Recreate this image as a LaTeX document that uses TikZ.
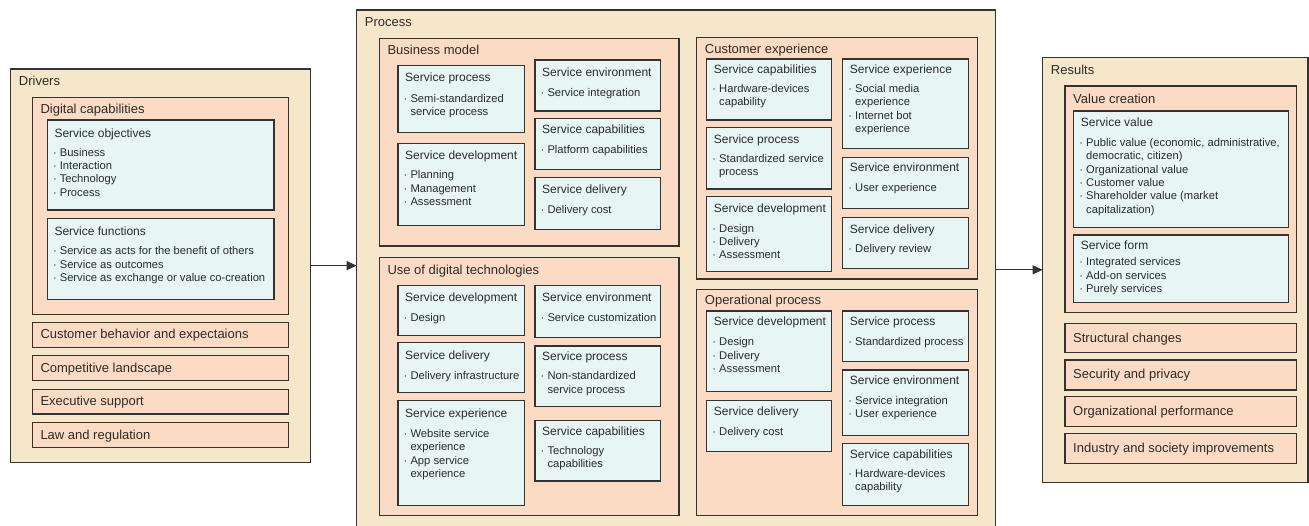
\documentclass[tikz,border=0pt]{standalone}
\usepackage{fontspec}
\setmainfont{Liberation Sans}
\usetikzlibrary{arrows.meta}
\definecolor{cbeige}{HTML}{F6E7CA}
\definecolor{csalmon}{HTML}{FCDBC4}
\definecolor{cblue}{HTML}{E8F5F5}
\definecolor{cline}{HTML}{333333}
\definecolor{ctext}{HTML}{2B2B2B}
\newcommand\bu{\makebox[6.8pt][l]{·}}
\newcommand\bi{\hspace*{6.8pt}}
% generic rectangle node: style, name, x1, y1, x2, y2
\newcommand\abox[6]{\node[#1, minimum width={#5-#3}, minimum height={#6-#4}] (#2) at (#3,#4) {};}
% container with heading: style, name, x1, y1, x2, y2, text, baseline offset
\newcommand\cbox[8]{\abox{#1}{#2}{#3}{#4}{#5}{#6}
  \node[head] (#2-t) at ([xshift=8pt,yshift=-#8pt]#2.north west) {#7};}
% service box: name, x1, y1, x2, y2, title, lines, title offset, bullet offset
\newcommand\svc[9]{\abox{bluebox}{#1}{#2}{#3}{#4}{#5}
  \node[ttl] (#1-t) at ([xshift=7pt,yshift=-#8pt]#1.north west) {#6};
  \node[bul] (#1-b) at ([xshift=5.5pt,yshift=-#9pt]#1.north west) {\begin{tabular}[t]{@{}l@{}}#7\end{tabular}};}
\tikzset{
  box/.style={draw=cline, line width=1.2pt, inner sep=0pt, outer sep=0pt, anchor=north west},
  outerbox/.style={box, fill=cbeige},
  midbox/.style={box, fill=csalmon},
  bluebox/.style={box, fill=cblue},
  head/.style={font=\fontsize{13}{15}\selectfont, text=ctext, inner sep=0pt, anchor=base west},
  ttl/.style={font=\fontsize{12}{14}\selectfont, text=ctext, inner sep=0pt, anchor=base west},
  bul/.style={font=\fontsize{11.2}{13.3}\selectfont, text=ctext, inner sep=0pt, anchor=base west},
  arr/.style={draw=cline, line width=1.2pt, -{Triangle[length=10pt,width=9pt]}}
}
\begin{document}
\begin{tikzpicture}[x=1pt,y=-1pt]
\useasboundingbox (0,0) rectangle (1309,526);
\clip (0,0) rectangle (1309,526);

% ---------------- Drivers ----------------
\cbox{outerbox}{drivers}{10.7}{69}{310.7}{462.3}{Drivers}{16.7}
\cbox{midbox}{digcap}{32.3}{97.3}{288.7}{314.3}{Digital capabilities}{16.7}
\svc{dobj}{47.3}{120}{274}{210}{Service objectives}{\bu Business\\\bu Interaction\\\bu Technology\\\bu Process}{17.5}{36.3}
\svc{dfun}{47.3}{218.3}{274}{299.3}{Service functions}{\bu Service as acts for the benefit of others\\\bu Service as outcomes\\\bu Service as exchange or value co-creation}{17.3}{36.7}
\cbox{midbox}{dcb}{32.3}{322.3}{288.7}{347.3}{Customer behavior and expectaions}{16.5}
\cbox{midbox}{dcl}{32.3}{355.7}{288.7}{380.7}{Competitive landscape}{16.5}
\cbox{midbox}{des}{32.3}{389.3}{288.7}{414}{Executive support}{16.5}
\cbox{midbox}{dlr}{32.3}{422.7}{288.7}{447.7}{Law and regulation}{16.5}

% ---------------- Process ----------------
\cbox{outerbox}{process}{356.7}{10}{995.3}{540}{Process}{16.7}
% Business model
\cbox{midbox}{bm}{379.3}{38.3}{679}{246}{Business model}{16.7}
\svc{bmsp}{398}{65.3}{524.7}{132.7}{Service process}{\bu Semi-standardized\\\bi service process}{16.7}{37}
\svc{bmsd}{398}{143.3}{524.7}{225.7}{Service development}{\bu Planning\\\bu Management\\\bu Assessment}{16}{35.7}
\svc{bmse}{535}{60}{660.3}{111}{Service environment}{\bu Service integration}{16.7}{36.3}
\svc{bmsc}{535}{118.3}{660.3}{169.7}{Service capabilities}{\bu Platform capabilities}{15.5}{35}
\svc{bmsdl}{535}{177.7}{660.3}{229.3}{Service delivery}{\bu Delivery cost}{15.5}{35.5}
% Use of digital technologies
\cbox{midbox}{udt}{379.3}{257.3}{679}{515.5}{Use of digital technologies}{17.3}
\svc{usd}{398}{285.7}{524.7}{335.7}{Service development}{\bu Design}{16}{36}
\svc{usdl}{398}{342.3}{524.7}{392.3}{Service delivery}{\bu Delivery infrastructure}{17}{37}
\svc{usx}{398}{400.7}{524.7}{505.5}{Service experience}{\bu Website service\\\bi experience\\\bu App service\\\bi experience}{17}{37}
\svc{use}{535}{285.7}{660.3}{337.3}{Service environment}{\bu Service customization}{16}{36}
\svc{usp}{535}{346}{660.3}{406.3}{Service process}{\bu Non-standardized\\\bi service process}{15}{34}
\svc{usc}{535}{420.3}{660.3}{481}{Service capabilities}{\bu Technology\\\bi capabilities}{14.7}{33.7}
% Customer experience
\cbox{midbox}{cx}{696.7}{37.7}{977.7}{279}{Customer experience}{15.7}
\svc{csc}{706.7}{59}{831.7}{120}{Service capabilities}{\bu Hardware-devices\\\bi capability}{14.3}{33.7}
\svc{csp}{706.7}{127.7}{831.7}{189}{Service process}{\bu Standardized service\\\bi process}{15.7}{34.7}
\svc{csd}{706.7}{196.7}{831.7}{271.7}{Service development}{\bu Design\\\bu Delivery\\\bu Assessment}{16}{35.7}
\svc{csx}{842.7}{59}{968.3}{148.3}{Service experience}{\bu Social media\\\bi experience\\\bu Internet bot\\\bi experience}{14.3}{33.7}
\svc{cse}{842.7}{157.7}{968.3}{208.3}{Service environment}{\bu User experience}{14}{34}
\svc{csdl}{842.7}{217.7}{968.3}{268.3}{Service delivery}{\bu Delivery review}{15.7}{34.7}
% Operational process
\cbox{midbox}{op}{696.7}{289.3}{977.7}{515.5}{Operational process}{15.3}
\svc{osd}{706.7}{311}{831.7}{391.7}{Service development}{\bu Design\\\bu Delivery\\\bu Assessment}{15}{35}
\svc{osdl}{706.7}{400.7}{831.7}{451.7}{Service delivery}{\bu Delivery cost}{15}{35}
\svc{osp}{842.7}{311}{968.3}{361.7}{Service process}{\bu Standardized process}{15}{35}
\svc{ose}{842.7}{370}{968.3}{435.7}{Service environment}{\bu Service integration\\\bu User experience}{14.3}{34.3}
\svc{osc}{842.7}{443.3}{968.3}{505.7}{Service capabilities}{\bu Hardware-devices\\\bi capability}{15}{34.3}

% ---------------- Results ----------------
\cbox{outerbox}{results}{1042.7}{57.3}{1308}{482.3}{Results}{17.3}
\cbox{midbox}{vc}{1065}{86}{1296.7}{312.3}{Value creation}{17.3}
\svc{rsv}{1073.7}{111}{1288.3}{227.3}{Service value}{\bu Public value (economic, administrative,\\\bi democratic, citizen)\\\bu Organizational value\\\bu Customer value\\\bu Shareholder value (market\\\bi capitalization)}{15.7}{35.7}
\svc{rsf}{1073.7}{235}{1288.3}{302.3}{Service form}{\bu Integrated services\\\bu Add-on services\\\bu Purely services}{15}{31}
\cbox{midbox}{rsc}{1065}{323.3}{1296.7}{352.7}{Structural changes}{19}
\cbox{midbox}{rsp}{1065}{360}{1296.7}{390}{Security and privacy}{19}
\cbox{midbox}{rop}{1065}{396.7}{1296.7}{426.7}{Organizational performance}{19}
\cbox{midbox}{ris}{1065}{433.3}{1296.7}{463.3}{Industry and society improvements}{19}

% ---------------- Connectors ----------------
\draw[arr] (drivers.east) -- (drivers.east -| process.west);
\draw[arr] (process.east |- results.west) -- (results.west);
\end{tikzpicture}
\end{document}
